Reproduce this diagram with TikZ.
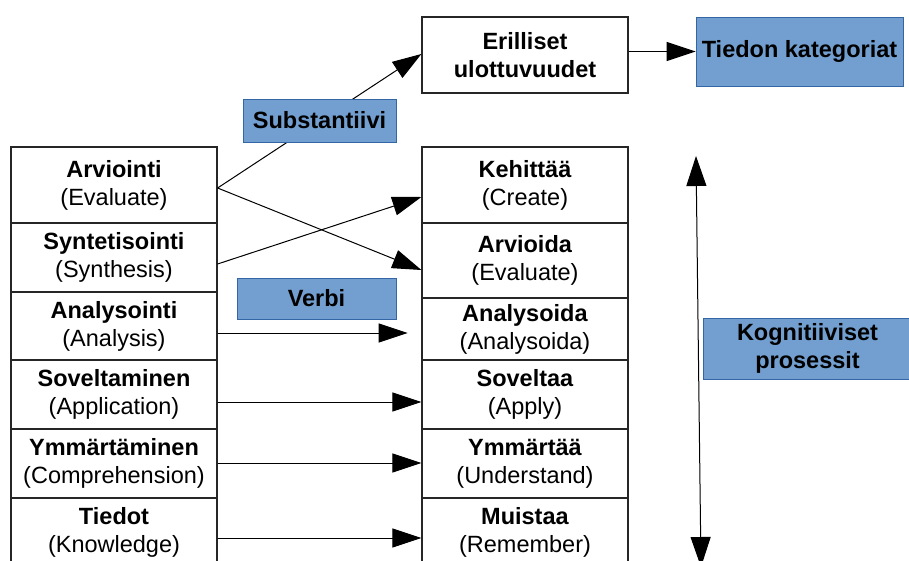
\documentclass[tikz,border=0pt]{standalone}
\usepackage{fontspec}
\setmainfont{Liberation Sans}
\usetikzlibrary{arrows.meta,calc}
\definecolor{boxblue}{HTML}{729FCF}
\definecolor{boxedge}{HTML}{3465A4}
\newcommand\dfont{\fontsize{23.5}{28}\selectfont}
\begin{document}
\begin{tikzpicture}[x=1pt,y=-1pt,
  cell/.style={draw=black!85, line width=1.2pt, fill=white, minimum width=206pt,
    align=center, inner sep=0pt, font=\dfont},
  tag/.style={draw=boxedge, line width=0.8pt, fill=boxblue, align=center,
    inner sep=0pt, font=\dfont\bfseries},
  conn/.style={line width=1pt, -{Triangle[length=29pt,width=19pt]}},
  dconn/.style={line width=1pt, {Triangle[length=30pt,width=20pt]}-{Triangle[length=30pt,width=20pt]}}]
\clip (0,0) rectangle (909,561);
\fill[white] (0,0) rectangle (909,561);
% left column
\node[cell, minimum height=76pt] (l1) at (114,185) {\textbf{Arviointi}\\(Evaluate)};
\node[cell, minimum height=69pt] (l2) at (114,257.5) {\textbf{Syntetisointi}\\(Synthesis)};
\node[cell, minimum height=68pt] (l3) at (114,326) {\textbf{Analysointi}\\(Analysis)};
\node[cell, minimum height=69pt] (l4) at (114,394.5) {\textbf{Soveltaminen}\\(Application)};
\node[cell, minimum height=69pt] (l5) at (114,463.5) {\textbf{Ymmärtäminen}\\(Comprehension)};
\node[cell, minimum height=69pt] (l6) at (114,532.5) {\textbf{Tiedot}\\(Knowledge)};
% right column
\node[cell, minimum height=76pt] (r1) at (525,185) {\textbf{Kehittää}\\(Create)};
\node[cell, minimum height=75pt] (r2) at (525,260.5) {\textbf{Arvioida}\\(Evaluate)};
\node[cell, minimum height=62pt] (r3) at (525,329) {\textbf{Analysoida}\\(Analysoida)};
\node[cell, minimum height=69pt] (r4) at (525,394.5) {\textbf{Soveltaa}\\(Apply)};
\node[cell, minimum height=69pt] (r5) at (525,463.5) {\textbf{Ymmärtää}\\(Understand)};
\node[cell, minimum height=69pt] (r6) at (525,532.5) {\textbf{Muistaa}\\(Remember)};
% top
\node[cell, minimum height=76pt] (er) at (525,55) {\textbf{Erilliset}\\\textbf{ulottuvuudet}};
\node[tag, minimum width=207pt, minimum height=69pt] (tk) at (799.5,51.5) {Tiedon kategoriat};
\node[tag, minimum width=159pt, minimum height=41pt] (verbi) at (316.5,298.5) {Verbi};
\node[tag, minimum width=209pt, minimum height=61pt] (kog) at (807.5,348.5) {Kognitiiviset\\prosessit};
% connectors
\coordinate (a1) at ($(l1.east)+(0,3)$);
\draw[conn] (a1) -- ($(er.west)+(0,-1)$);
\draw[conn] (a1) -- ($(r2.west)+(0,9.5)$);
\draw[conn] ($(l2.east)+(0,6.5)$) -- ($(r1.west)+(0,12)$);
\coordinate (a3end) at ($(l3.east)+(190,7)$);
\draw[conn] ($(l3.east)+(0,7)$) -- (a3end);
\draw[conn] ($(l4.east)+(0,7.5)$) -- ($(r4.west)+(0,7.5)$);
\draw[conn] ($(l5.east)+(0,-0.5)$) -- ($(r5.west)+(0,-0.5)$);
\draw[conn] ($(l6.east)+(0,5.5)$) -- ($(r6.west)+(0,5.5)$);
\draw[conn] ($(er.east)+(0,-3.5)$) -- (tk.west);
\coordinate (kt) at (696,156);
\coordinate (kb) at (701,567);
\draw[dconn] (kt) -- (kb);
\node[tag, minimum width=153pt, minimum height=43pt] (subst) at (319.5,120.5) {Substantiivi};
\end{tikzpicture}
\end{document}
